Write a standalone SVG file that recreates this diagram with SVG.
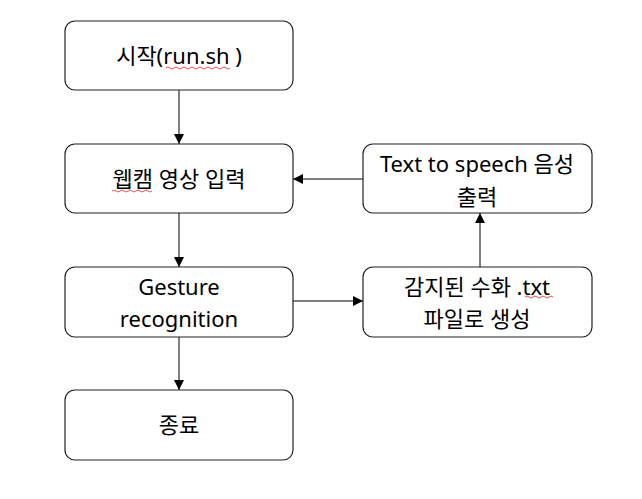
<svg xmlns="http://www.w3.org/2000/svg" width="642" height="499" viewBox="0 0 642 499">
<style>
.box{fill:#fff;stroke:#222;stroke-width:1.2}
.t{font-family:"Noto Sans","Noto Sans CJK KR",sans-serif;font-size:22px;fill:#000;text-anchor:middle}
.c{stroke:#000;stroke-width:1;fill:none}
.sq{stroke:#e02020;stroke-width:0.8;fill:none}
</style>
<defs>
<marker id="ah" markerWidth="10" markerHeight="10" refX="10" refY="5" orient="auto" markerUnits="userSpaceOnUse">
<path d="M0,0 L10,5 L0,10 Z" fill="#000"/>
</marker>
</defs>
<rect width="642" height="499" fill="#fff"/>
<g id="connectors">
<line class="c" x1="179" y1="90" x2="179" y2="144" marker-end="url(#ah)"/>
<line class="c" x1="179" y1="213" x2="179" y2="267" marker-end="url(#ah)"/>
<line class="c" x1="179" y1="337" x2="179" y2="390" marker-end="url(#ah)"/>
<line class="c" x1="293" y1="301" x2="363" y2="301" marker-end="url(#ah)"/>
<line class="c" x1="480" y1="267" x2="480" y2="213" marker-end="url(#ah)"/>
<line class="c" x1="363" y1="179" x2="293" y2="179" marker-end="url(#ah)"/>
</g>
<g id="start">
<rect class="box" x="65" y="21" width="228" height="69" rx="10"/>
<text class="t" x="179" y="64">시작(run.sh )</text>
<path class="sq" d="M166,68 q2,-2 4,0 t4,0 t4,0 t4,0 t4,0 t4,0 t4,0 t4,0 t4,0 t4,0 t4,0 t4,0 t4,0 t4,0 t4,0 t4,0"/>
</g>
<g id="webcam">
<rect class="box" x="65" y="144" width="228" height="69" rx="10"/>
<text class="t" x="179" y="187">웹캠 영상 입력</text>
<path class="sq" d="M112,191 q2,-2 4,0 t4,0 t4,0 t4,0 t4,0 t4,0 t4,0 t4,0 t4,0 t4,0"/>
</g>
<g id="gesture">
<rect class="box" x="65" y="267" width="228" height="70" rx="10"/>
<text class="t" x="179" y="295">Gesture</text>
<text class="t" x="179" y="327">recognition</text>
</g>
<g id="end">
<rect class="box" x="65" y="390" width="228" height="70" rx="10"/>
<text class="t" x="179" y="433">종료</text>
</g>
<g id="tts">
<rect class="box" x="363" y="144" width="229" height="69" rx="10"/>
<text class="t" x="477" y="172">Text to speech 음성</text>
<text class="t" x="477" y="205">출력</text>
</g>
<g id="txtfile">
<rect class="box" x="363" y="267" width="229" height="70" rx="10"/>
<text class="t" x="477" y="295">감지된 수화 .txt</text>
<text class="t" x="477" y="327">파일로 생성</text>
<path class="sq" d="M525,297 q2,-2 4,0 t4,0 t4,0 t4,0 t4,0 t4,0 t4,0"/>
</g>
</svg>
